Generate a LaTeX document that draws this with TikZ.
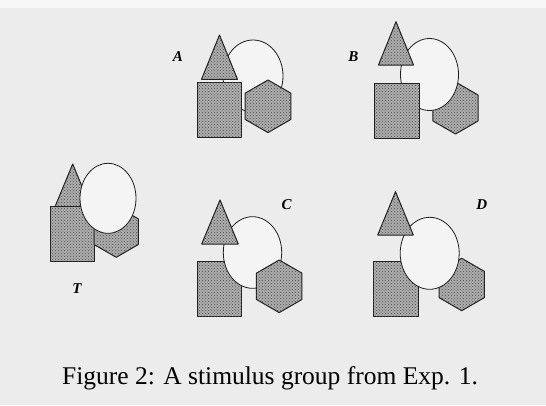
\documentclass[tikz,border=0pt]{standalone}
\usepackage{fontspec}
\setmainfont{Liberation Serif}
\usetikzlibrary{patterns}
\definecolor{bg}{rgb}{0.925,0.925,0.925}
\definecolor{shadefill}{rgb}{0.68,0.68,0.68}
\definecolor{dotcol}{rgb}{0.3,0.3,0.3}
\definecolor{edge}{rgb}{0.12,0.12,0.12}
\newcommand\MyTri[4]{\draw[shp] (#1,#2) -- ({#1+#3},#4) -- ({#1-#3},#4) -- cycle;}
\newcommand\MyRect[4]{\draw[shp] (#1,#2) rectangle (#3,#4);}
\newcommand\MyHexa[3]{\draw[shp,shift={(#1,#2)}] (90:#3) -- (30:#3) -- (-30:#3) -- (-90:#3) -- (-150:#3) -- (150:#3) -- cycle;}
\newcommand\MyOval[4]{\draw[oval] (#1,#2) ellipse [x radius=#3pt, y radius=#4pt];}
\begin{document}
\begin{tikzpicture}[x=1pt,y=-1pt,
  shp/.style={draw=edge, line width=1pt, fill=shadefill, line join=round,
              postaction={pattern=crosshatch dots, pattern color=dotcol}},
  oval/.style={draw=edge, line width=0.8pt, fill=bg!60!white},
  lbl/.style={font=\fontsize{15}{15}\selectfont\bfseries\itshape, inner sep=0pt},
]
\useasboundingbox (0,0) rectangle (546,405);
\fill[bg] (0,0) rectangle (546,405);
\fill[white!60!bg] (0,0) rectangle (546,8);

% Group A
\MyOval{253}{76}{30}{36}
\MyTri{219.5}{35}{18}{79.3}
\MyRect{197.3}{82.7}{241.7}{137.3}
\MyHexa{268}{106.3}{26.3}
\node[lbl] (labA) at (178,57) {A};

% Group B
\MyHexa{455.5}{108}{26}
\MyOval{429.5}{74.5}{29}{36}
\MyRect{374.3}{83.3}{419}{138.3}
\MyTri{396}{21.7}{17.5}{65}
\node[lbl] (labB) at (353.3,57) {B};

% Group T
\MyTri{72.7}{164}{17.7}{206.7}
\MyRect{50}{206.7}{94}{261.7}
\MyHexa{116.2}{231.7}{25.6}
\MyOval{108}{198.3}{28}{35}
\node[lbl] (labT) at (77,289) {T};

% Group C
\MyRect{197.3}{261.7}{241.7}{316}
\MyOval{252.5}{252.5}{29.2}{35.8}
\MyTri{220}{200}{18.3}{244}
\MyHexa{279.2}{286.3}{26.3}
\node[lbl] (labC) at (286.7,205) {C};

% Group D
\MyHexa{461.7}{284.5}{26.2}
\MyRect{373.3}{261.7}{418.3}{316.7}
\MyOval{429.7}{253.3}{29.5}{36}
\MyTri{395.5}{191.7}{17.8}{235}
\node[lbl] (labD) at (481.7,205) {D};

\node (cap) at (270,378) {\fontsize{25.5}{30}\selectfont Figure 2: A stimulus group from Exp. 1.};
\end{tikzpicture}
\end{document}
